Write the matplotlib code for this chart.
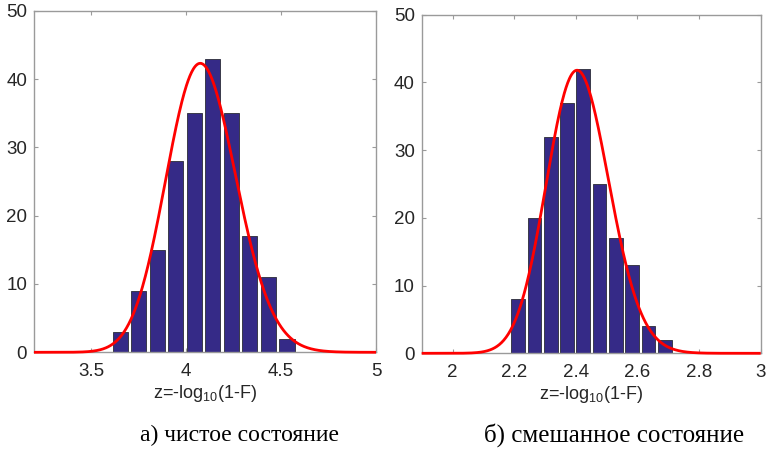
import numpy as np
import matplotlib
matplotlib.use("Agg")
import matplotlib.pyplot as plt

# ---- data ----
left_centers = [3.654, 3.751, 3.849, 3.946, 4.044, 4.141, 4.239, 4.336, 4.434, 4.531]
left_counts = [3, 9, 15, 28, 35, 43, 35, 17, 11, 2]
right_centers = [2.213, 2.266, 2.319, 2.372, 2.424, 2.477, 2.530, 2.583, 2.636, 2.689]
right_counts = [8, 20, 32, 37, 42, 25, 17, 13, 4, 2]

# fitted (lognormal) curve parameters: mode, log-sigma, peak height
left_fit = dict(mode=4.075, s=0.045, peak=42.3)
right_fit = dict(mode=2.404, s=0.042, peak=41.8)

left_xlim = (3.2, 5.0)
right_xlim = (1.9, 3.0)
left_xticks = [3.5, 4, 4.5, 5]
left_xticklabels = ["3.5", "4", "4.5", "5"]
right_xticks = [2, 2.2, 2.4, 2.6, 2.8, 3]
right_xticklabels = ["2", "2.2", "2.4", "2.6", "2.8", "3"]
yticks = [0, 10, 20, 30, 40, 50]
xlabel_text = r"z=-log$_{\mathregular{10}}$(1-F)"
captions = ["а) чистое состояние", "б) смешанное состояние"]

BAR = "#352a87"
AX = "#9a9a9a"
TXT = "#262626"

def lognorm_curve(x, mode, s, peak):
    mu = np.log(mode) + s ** 2
    f = np.exp(-(np.log(x) - mu) ** 2 / (2 * s ** 2)) / x
    fm = np.exp(-(np.log(mode) - mu) ** 2 / (2 * s ** 2)) / mode
    return peak * f / fm

plt.rcParams["mathtext.fontset"] = "custom"
plt.rcParams["mathtext.rm"] = "Liberation Sans"

fig = plt.figure(figsize=(7.67, 4.65), dpi=100)
W, H = 767, 465

def add_axes(x0, x1, ytop, ybot):
    return fig.add_axes([x0 / W, 1 - ybot / H, (x1 - x0) / W, (ybot - ytop) / H])

axL = add_axes(34, 376, 10.7, 352.3)
axR = add_axes(421.7, 760.7, 14.7, 353.3)

panels = [
    (axL, left_centers, left_counts, left_fit, left_xlim, left_xticks, left_xticklabels, 0.0805),
    (axR, right_centers, right_counts, right_fit, right_xlim, right_xticks, right_xticklabels, 0.0435),
]

for ax, cen, cnt, fit, xlim, xt, xtl, bw in panels:
    ax.bar(cen, cnt, width=bw, color=BAR, edgecolor="#3a3a4a", linewidth=0.7, zorder=2)
    xs = np.linspace(xlim[0], xlim[1], 600)
    ax.plot(xs, lognorm_curve(xs, **fit), color="#ff0000", lw=2.0, zorder=3,
            clip_on=False, solid_capstyle="butt")
    ax.set_xlim(*xlim)
    ax.set_ylim(0, 50)
    ax.set_xticks(xt)
    ax.set_xticklabels(xtl)
    ax.set_yticks(yticks)
    for sp in ax.spines.values():
        sp.set_color(AX)
        sp.set_linewidth(1.0)
    ax.tick_params(direction="in", length=3, width=0.8, color=AX, top=True, right=True,
                   labelsize=13.5, labelcolor=TXT)
    ax.tick_params(axis="x", pad=8)
    ax.tick_params(axis="y", pad=5)
    for lab in ax.get_xticklabels() + ax.get_yticklabels():
        lab.set_fontfamily("Liberation Sans")
    ax.set_xlabel(xlabel_text, fontsize=13, color=TXT, family="Liberation Sans", labelpad=2)

fig.text(239 / W, 1 - 435 / H, captions[0], ha="center", va="center",
         fontsize=17, family="Liberation Serif", color="black")
fig.text(614 / W, 1 - 435 / H, captions[1], ha="center", va="center",
         fontsize=18, family="Liberation Serif", color="black")

fig.savefig("out.png", dpi=100)
